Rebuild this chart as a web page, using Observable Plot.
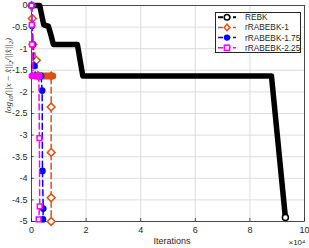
<!DOCTYPE html>
<html><head><meta charset="utf-8">
<script src="https://cdn.jsdelivr.net/npm/d3@7"></script>
<script src="https://cdn.jsdelivr.net/npm/@observablehq/plot@0.6"></script>
<style>
body{margin:0;background:#fff;font-family:"Liberation Sans",Arial,sans-serif;}
#wrap{position:relative;width:309px;height:248px;}
#legend{position:absolute;left:215px;top:12px;width:86px;height:41px;background:#fff;border:1px solid #262626;box-sizing:border-box;}
</style></head>
<body><div id="wrap"></div>
<script>
// Series: iterations and log10 relative error
const rebkIter = [0, 3000, 4000, 4500, 6200, 7200, 8000, 16800, 18800, 87900, 93000];
const rebkErr  = [0, 0, -0.3, -0.45, -0.48, -0.7, -0.9, -0.9, -1.63, -1.63, -4.91];

const r1Iter = [0, 300, 500, 1800, 2500, 7200, 7200, 7200, 7200, 7200];
const r1Err  = [0, -0.3, -0.9, -1.27, -1.63, -1.63, -2.35, -3.4, -4.45, -5];
const r1PlateauIter = [1800, 7800];
const r1PlateauErr = [-1.63, -1.63];

const r175Iter = [0, 200, 500, 1000, 1500, 3500, 3900, 4000, 4300, 4200];
const r175Err  = [0, -0.47, -0.9, -1.4, -1.63, -1.63, -1.97, -3.83, -4.7, -4.95];

const r225Iter = [0, 100, 200, 500, 2700, 2900, 3000, 2600];
const r225Err  = [0, -0.45, -0.9, -1.63, -1.63, -3.07, -4.65, -4.95];
const r225PlateauIter = [0, 3000];
const r225PlateauErr = [-1.63, -1.63];

const xTicks = [0, 20000, 40000, 60000, 80000, 100000];
const yTicks = [0, -0.5, -1, -1.5, -2, -2.5, -3, -3.5, -4, -4.5, -5];

const seriesNames = ["REBK", "rRABEBK-1", "rRABEBK-1.75", "rRABEBK-2.25"];
const colors = ["#000000", "#D95319", "#0000FF", "#FF00FF"];

const toRows = (xs, ys) => xs.map((x, i) => ({x, y: ys[i]}));
const rebk = toRows(rebkIter, rebkErr);
const r1 = toRows(r1Iter, r1Err);
const r1P = toRows(r1PlateauIter, r1PlateauErr);
const r175 = toRows(r175Iter, r175Err);
const r225 = toRows(r225Iter, r225Err);
const r225P = toRows(r225PlateauIter, r225PlateauErr);

const yLabelText = "log10(||x − x̂||2/||x̂||2)";

const dash = "6,3.5";
const plot = Plot.plot({
  width: 309, height: 248,
  marginLeft: 31, marginRight: 5, marginTop: 5, marginBottom: 27,
  style: {fontFamily: "Liberation Sans, Arial, sans-serif", fontSize: "9px", color: "#262626", background: "#fff"},
  x: {type: "linear", domain: [0, 100000]},
  y: {type: "linear", domain: [-5, 0]},
  marks: [
    Plot.gridX(xTicks, {stroke: "#dcdcdc", strokeOpacity: 1}),
    Plot.gridY(yTicks, {stroke: "#dcdcdc", strokeOpacity: 1}),
    Plot.frame({stroke: "#262626", strokeWidth: 0.8}),
    Plot.axisX(xTicks, {tickSize: 0, tickPadding: 5, tickFormat: d => d / 10000, label: null, fill: "#262626", fontSize: 9}),
    Plot.axisY(yTicks, {tickSize: 0, tickPadding: 4, tickFormat: d => d, label: null, fill: "#262626", fontSize: 9}),
    Plot.ruleX(xTicks, {x: d => d, y1: -5, y2: -4.93, stroke: "#262626", strokeWidth: 0.8}),
    Plot.ruleY(yTicks, {y: d => d, x1: 0, x2: 1000, stroke: "#262626", strokeWidth: 0.8}),
    // REBK (dense markers -> thick line)
    Plot.line(rebk, {x: "x", y: "y", stroke: colors[0], strokeWidth: 5.5, strokeLinejoin: "round", strokeLinecap: "round"}),
    Plot.dot(rebk.slice(-1), {x: "x", y: "y", r: 3, stroke: "#000", fill: "#fff", strokeWidth: 1.5}),
    // rRABEBK-1
    Plot.line(r1, {x: "x", y: "y", stroke: colors[1], strokeWidth: 1.5, strokeDasharray: dash}),
    Plot.dot(r1, {x: "x", y: "y", symbol: "diamond2", r: 3.5, stroke: colors[1], fill: "#fff", strokeWidth: 1.5}),
    Plot.line(r1P, {x: "x", y: "y", stroke: colors[1], strokeWidth: 7, strokeLinecap: "round"}),
    // rRABEBK-1.75
    Plot.line(r175, {x: "x", y: "y", stroke: colors[2], strokeWidth: 1.5, strokeDasharray: dash}),
    Plot.dot(r175, {x: "x", y: "y", r: 2.6, fill: colors[2], stroke: colors[2]}),
    // rRABEBK-2.25
    Plot.line(r225, {x: "x", y: "y", stroke: colors[3], strokeWidth: 1.5, strokeDasharray: dash}),
    Plot.dot(r225, {x: "x", y: "y", symbol: "square2", r: 3, stroke: colors[3], fill: "#fff", strokeWidth: 1.5}),
    Plot.line(r225P, {x: "x", y: "y", stroke: colors[3], strokeWidth: 6}),
    // labels
    Plot.text([yLabelText], {frameAnchor: "left", rotate: -90, dx: -23, fontStyle: "italic", fontSize: 9, fill: "#262626", fontFamily: "Liberation Serif, serif"}),
    Plot.text(["Iterations"], {frameAnchor: "bottom", dy: 22, dx: 4, fontSize: 9, fill: "#262626"}),
    Plot.text(["×10⁴"], {frameAnchor: "bottom-right", dy: 23, dx: 1, textAnchor: "end", fontSize: 8, fill: "#262626"})
  ]
});
const wrap = document.getElementById("wrap");
wrap.appendChild(plot);

// Rich y label with subscripts
const ns = "http://www.w3.org/2000/svg";
plot.querySelectorAll("text").forEach(t => {
  if (t.textContent === yLabelText) {
    t.textContent = "";
    const parts = [["log", 0], ["10", 1], ["(||x − x̂||", 0], ["2", 1], ["/||x̂||", 0], ["2", 1], [")", 0]];
    parts.forEach(([s, sub]) => {
      const ts = document.createElementNS(ns, "tspan");
      ts.textContent = s;
      if (sub) { ts.setAttribute("font-size", "6.5"); ts.setAttribute("dy", "2"); }
      else { ts.setAttribute("dy", "-2"); }
      t.appendChild(ts);
    });
    t.firstChild.setAttribute("dy", "0");
  }
});

// Legend
const leg = document.createElement("div");
leg.id = "legend";
const svg = document.createElementNS(ns, "svg");
svg.setAttribute("width", 84); svg.setAttribute("height", 39);
const symbols = ["circle", "diamond", "dot", "square"];
seriesNames.forEach((name, i) => {
  const y = 4.2 + i * 10.2;
  const line = document.createElementNS(ns, "line");
  line.setAttribute("x1", 2); line.setAttribute("x2", 20);
  line.setAttribute("y1", y); line.setAttribute("y2", y);
  line.setAttribute("stroke", colors[i]); line.setAttribute("stroke-width", i === 0 ? 2 : 1.5);
  line.setAttribute("stroke-dasharray", "5,2.5");
  svg.appendChild(line);
  let m;
  const cx = 11;
  if (symbols[i] === "circle" || symbols[i] === "dot") {
    m = document.createElementNS(ns, "circle");
    m.setAttribute("cx", cx); m.setAttribute("cy", y); m.setAttribute("r", i === 0 ? 2.8 : 2.4);
    m.setAttribute("fill", symbols[i] === "dot" ? colors[i] : "#fff");
  } else if (symbols[i] === "diamond") {
    m = document.createElementNS(ns, "path");
    m.setAttribute("d", `M${cx},${y-3.3}L${cx+2.8},${y}L${cx},${y+3.3}L${cx-2.8},${y}Z`);
    m.setAttribute("fill", "#fff");
  } else {
    m = document.createElementNS(ns, "rect");
    m.setAttribute("x", cx - 2.6); m.setAttribute("y", y - 2.6);
    m.setAttribute("width", 5.2); m.setAttribute("height", 5.2);
    m.setAttribute("fill", "#fff");
  }
  m.setAttribute("stroke", colors[i]); m.setAttribute("stroke-width", 1.5);
  svg.appendChild(m);
  const t = document.createElementNS(ns, "text");
  t.setAttribute("x", 29); t.setAttribute("y", y + 3);
  t.setAttribute("font-size", "8.3"); t.setAttribute("fill", "#262626");
  t.setAttribute("font-family", "Liberation Sans, Arial, sans-serif");
  t.textContent = name;
  svg.appendChild(t);
});
leg.appendChild(svg);
wrap.appendChild(leg);
</script></body></html>
